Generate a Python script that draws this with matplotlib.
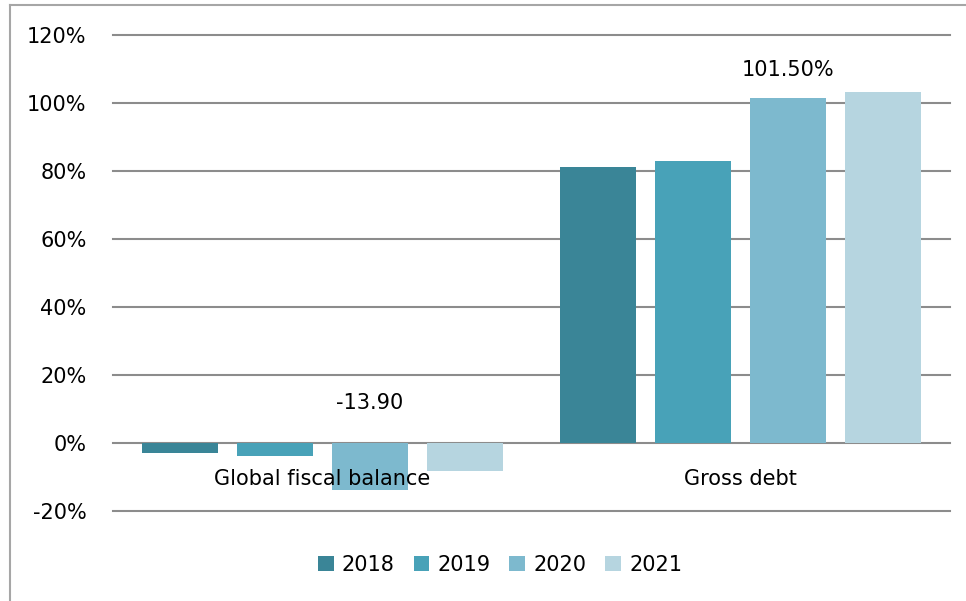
import matplotlib.pyplot as plt
from matplotlib.lines import Line2D
import numpy as np

categories = ["Global fiscal balance", "Gross debt"]
years      = ["2018", "2019", "2020", "2021"]
v_2018     = [-2.9, 81.2]
v_2019     = [-3.8, 82.8]
v_2020     = [-13.9, 101.5]
v_2021     = [-8.1, 103.1]
colors     = ["#3a8597", "#48a2b8", "#7db9ce", "#b6d5e0"]
yticks     = [-20, 0, 20, 40, 60, 80, 100, 120]

plt.rcParams['font.family'] = 'DejaVu Sans'
fs = 15

fig = plt.figure(figsize=(9.66, 6.01), dpi=100)
ax  = fig.add_axes([113/966, 1-511/601, 837/966, 476/601])

x    = np.arange(len(categories))
step = 0.227
wdt  = 0.182

series = [v_2018, v_2019, v_2020, v_2021]
for i in range(len(years)):
    ax.bar(x + (i-1.5)*step, series[i], width=wdt, color=colors[i],
           label=years[i], zorder=3)

# data labels (only 2020 in the original)
ax.text(x[0] + 0.5*step, 11.8, "%.2f" % v_2020[0], ha="center", va="center", fontsize=fs)
ax.text(x[1] + 0.5*step, 109.7, "%.2f%%" % v_2020[1], ha="center", va="center", fontsize=fs)

# category labels sit just below the zero line
for i in range(len(categories)):
    ax.text(x[i], -10.5, categories[i], ha="center", va="center", fontsize=fs, zorder=4)

ax.set_xlim(-0.5, 1.5)
ax.set_ylim(-20, 120)
ax.set_yticks(yticks)
ax.set_yticklabels([str(t)+"%" for t in yticks], fontsize=fs)
ax.set_xticks([])
ax.tick_params(axis="y", length=0, pad=19)
for s in ax.spines.values():
    s.set_visible(False)
ax.grid(axis="y", color="#8c8c8c", linewidth=1.5, zorder=1)
for gl in ax.get_ygridlines():
    gl.set_clip_on(False)

fig.legend(loc="center", bbox_to_anchor=(500/966, 1-565/601), ncol=4, frameon=False,
           fontsize=fs, handlelength=0.75, handleheight=0.75, handletextpad=0.4,
           columnspacing=0.9)

# outer chart frame (left and top visible)
fig.add_artist(Line2D([10/966, 10/966], [0, 1-5/601], color="#a6a6a6", linewidth=1.5))
fig.add_artist(Line2D([10/966, 1], [1-5/601, 1-5/601], color="#a6a6a6", linewidth=1.5))

plt.savefig("out.png", dpi=100)
plt.close(fig)
